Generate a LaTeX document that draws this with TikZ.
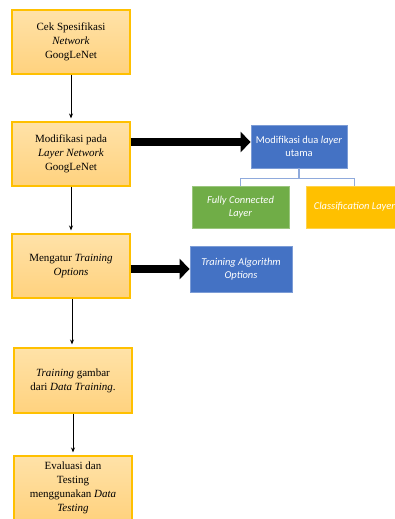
\documentclass[tikz,border=0pt]{standalone}
\usepackage{fontspec}
\setmainfont{Liberation Serif}
\newfontfamily\calibri{Carlito}
\usetikzlibrary{arrows.meta,positioning}
\definecolor{boxedge}{HTML}{FFC000}
\definecolor{boxtop}{HTML}{FFE2A8}
\definecolor{boxbot}{HTML}{FFD27E}
\definecolor{ppblue}{HTML}{4472C4}
\definecolor{ppgreen}{HTML}{70AD47}
\definecolor{ppgold}{HTML}{FFC000}
\definecolor{treeline}{HTML}{8FAADC}
\tikzset{
  stepbox/.style={draw=boxedge,line width=1.1pt,top color=boxtop,bottom color=boxbot,
    minimum width=118pt,minimum height=64pt,align=center,inner sep=2pt,
    font=\fontsize{11}{14}\selectfont},
  subbox/.style={draw=#1!70!white,line width=0.8pt,fill=#1,text=white,align=center,
    inner sep=2pt,font=\calibri\fontsize{10.5}{12.5}\selectfont},
  flow/.style={-{Stealth[length=5pt,width=4pt]},line width=0.8pt,shorten >=3pt},
  bigflow/.style={-{Triangle[length=10pt,width=20pt]},line width=8pt},
}
\begin{document}
\begin{tikzpicture}[x=1pt,y=-1pt]
                \useasboundingbox (0,0) rectangle (394,519);
                %% Main steps
                \node[stepbox] (cek) at (71,42) {Cek Spesifikasi\\\textit{Network}\\GoogLeNet};
                \node[stepbox] (modif) at (71,154) {Modifikasi pada\\\textit{Layer Network}\\GoogLeNet};
                \node[stepbox] (atur) at (71,266) {Mengatur \textit{Training}\\\textit{Options}};
                \node[stepbox,minimum height=65pt] (train) at (73,380.5) {\textit{Training} gambar\\dari \textit{Data Training}.};
                \node[stepbox] (eval) at (73,488) {Evaluasi dan\\Testing\\menggunakan \textit{Data}\\\textit{Testing}};
                %% Side boxes
                \node[subbox=ppblue,minimum width=96pt,minimum height=43pt] (dua) at (299,146.5) {Modifikasi dua \textit{layer}\\utama};
                \node[subbox=ppgreen,minimum width=97pt,minimum height=42pt] (fc) at (240.5,207) {\textit{Fully Connected}\\\textit{Layer}};
                \node[subbox=ppgold,minimum width=97pt,minimum height=42pt] (cls) at (354.5,207) {\textit{Classification Layer}};
                \node[subbox=ppblue,minimum width=102pt,minimum height=46pt] (algo) at (241,269) {\textit{Training Algorithm}\\\textit{Options}};
                %% Arrows
                \draw[flow] (cek) -- (modif);
                \draw[flow] (modif) -- (atur);
                \draw[flow] (atur.south -| 72,0) -- (train.north -| 72,0);
                \draw[flow] (train) -- (eval);
                \draw[bigflow] (modif.east |- 0,142) -- (dua.west |- 0,142);
                \draw[bigflow] (atur.east |- 0,269) -- (algo.west |- 0,269);
                %% Tree lines
                \draw[treeline,line width=1.2pt] (dua.south) -- ++(0,10) -| (fc.north);
                \draw[treeline,line width=1.2pt] (dua.south) -- ++(0,10) -| (cls.north);
\end{tikzpicture}
\end{document}
